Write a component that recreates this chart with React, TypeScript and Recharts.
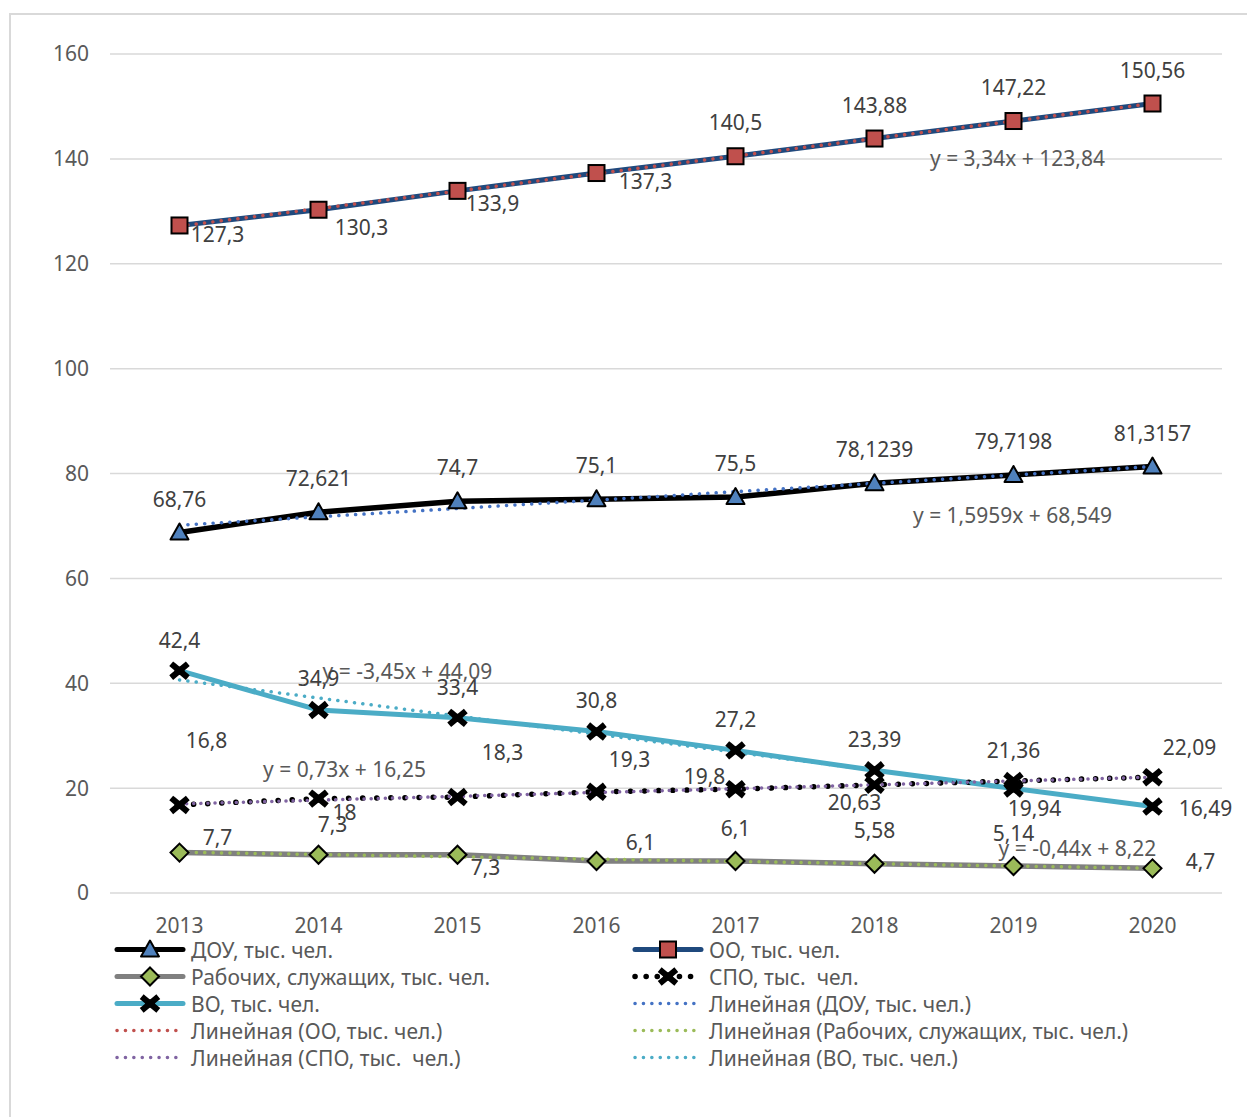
import { LineChart, Line, XAxis, YAxis, CartesianGrid, LabelList } from "recharts";

const years = ["2013", "2014", "2015", "2016", "2017", "2018", "2019", "2020"];
const dou = [68.76, 72.621, 74.7, 75.1, 75.5, 78.1239, 79.7198, 81.3157];
const oo = [127.3, 130.3, 133.9, 137.3, 140.5, 143.88, 147.22, 150.56];
const rab = [7.7, 7.3, 7.3, 6.1, 6.1, 5.58, 5.14, 4.7];
const spo = [16.8, 18, 18.3, 19.3, 19.8, 20.63, 21.36, 22.09];
const vo = [42.4, 34.9, 33.4, 30.8, 27.2, 23.39, 19.94, 16.49];

// linear trend values
const douTrend = [70.14, 71.74, 73.33, 74.93, 76.53, 78.12, 79.72, 81.32];
const ooTrend = [127.18, 130.52, 133.86, 137.2, 140.54, 143.88, 147.22, 150.56];
const rabTrend = [7.78, 7.34, 6.9, 6.46, 6.02, 5.58, 5.14, 4.7];
const spoTrend = [16.98, 17.71, 18.44, 19.17, 19.9, 20.63, 21.36, 22.09];
const voTrend = [40.64, 37.19, 33.74, 30.29, 26.84, 23.39, 19.94, 16.49];

const yTicks = [0, 20, 40, 60, 80, 100, 120, 140, 160];

const data = years.map((year, i) => ({
  year,
  dou: dou[i],
  oo: oo[i],
  rab: rab[i],
  spo: spo[i],
  vo: vo[i],
  douTrend: douTrend[i],
  ooTrend: ooTrend[i],
  rabTrend: rabTrend[i],
  spoTrend: spoTrend[i],
  voTrend: voTrend[i],
}));

// label offsets (px) from each point, mimicking Excel's placement
const douOff = [[0, -33], [0, -34], [0, -34], [0, -34], [0, -34], [0, -34], [0, -34], [0, -34]];
const ooOff = [[38, 9], [43, 17], [35, 12], [49, 8], [0, -34], [0, -34], [0, -34], [0, -34]];
const voOff = [[0, -31], [0, -32], [0, -31], [0, -31], [0, -31], [0, -31], [21, 20], [53, 1]];
const spoOff = [[27, -65], [26, 13], [45, -45], [33, -33], [-31, -13], [-20, 17], [0, -31], [37, -30]];
const rabOff = [[38, -16], [14, -31], [28, 12], [44, -19], [0, -33], [0, -34], [0, -33], [48, -7]];

const FONT = "'Noto Sans', 'Open Sans', sans-serif";
const FS = 21;
const LABEL = "#404040";
const AXIS = "#595959";

const C = {
  dou: "#000000",
  oo: "#1f497d",
  rab: "#808080",
  spo: "#000000",
  vo: "#4bacc6",
  douT: "#4472c4",
  ooT: "#c0504d",
  rabT: "#9bbb59",
  spoT: "#8064a2",
  voT: "#4bacc6",
};

const fmt = (v: number) => String(v).replace(".", ",");

function Tri({ cx, cy }: { cx: number; cy: number }) {
  return (
    <path
      d={`M${cx},${cy - 9} L${cx + 9},${cy + 7} L${cx - 9},${cy + 7} Z`}
      fill="#4f81bd"
      stroke="#000"
      strokeWidth={2}
      strokeLinejoin="round"
    />
  );
}

function Sq({ cx, cy }: { cx: number; cy: number }) {
  return <rect x={cx - 8} y={cy - 8} width={16} height={16} fill="#c0504d" stroke="#000" strokeWidth={2} />;
}

function Dia({ cx, cy }: { cx: number; cy: number }) {
  return (
    <path
      d={`M${cx},${cy - 9} L${cx + 9},${cy} L${cx},${cy + 9} L${cx - 9},${cy} Z`}
      fill="#9bbb59"
      stroke="#000"
      strokeWidth={2}
    />
  );
}

function Cross({ cx, cy }: { cx: number; cy: number }) {
  return (
    <g stroke="#000" strokeWidth={6} strokeLinecap="square">
      <line x1={cx - 6} y1={cy - 5} x2={cx + 6} y2={cy + 5} />
      <line x1={cx - 6} y1={cy + 5} x2={cx + 6} y2={cy - 5} />
      <rect x={cx - 5} y={cy - 4} width={10} height={8} fill="#000" strokeWidth={0} />
    </g>
  );
}

function pointLabel(offsets: number[][]) {
  return (p: any) => {
    const { x, y, value, index } = p;
    if (x == null || y == null) return null;
    const [dx, dy] = offsets[index] || [0, -30];
    return (
      <text
        key={`l-${index}`}
        x={x + dx}
        y={y + dy}
        textAnchor="middle"
        dominantBaseline="central"
        fontFamily={FONT}
        fontSize={FS}
        fill={LABEL}
      >
        {fmt(value)}
      </text>
    );
  };
}

function eqLabel(at: number, dx: number, dy: number, text: string) {
  return (p: any) => {
    const { x, y, index } = p;
    if (index !== at || x == null) return null;
    return (
      <text
        key={`eq-${index}`}
        x={x + dx}
        y={y + dy}
        textAnchor="middle"
        dominantBaseline="central"
        fontFamily={FONT}
        fontSize={FS}
        fill={AXIS}
      >
        {text}
      </text>
    );
  };
}

const dotted = (w: number, gap: number) => ({
  strokeWidth: w,
  strokeDasharray: `0.1 ${gap}`,
  strokeLinecap: "round" as const,
});

type LegendItem = { name: string; color: string; width: number; dash?: string; marker?: (cx: number, cy: number) => any };

const legendItems: LegendItem[] = [
  { name: "ДОУ, тыс. чел.", color: C.dou, width: 5, marker: (cx, cy) => <Tri cx={cx} cy={cy} /> },
  { name: "ОО, тыс. чел.", color: C.oo, width: 5, marker: (cx, cy) => <Sq cx={cx} cy={cy} /> },
  { name: "Рабочих, служащих, тыс. чел.", color: C.rab, width: 5, marker: (cx, cy) => <Dia cx={cx} cy={cy} /> },
  { name: "СПО, тыс.  чел.", color: C.spo, width: 5.5, dash: "0.1 11", marker: (cx, cy) => <Cross cx={cx} cy={cy} /> },
  { name: "ВО, тыс. чел.", color: C.vo, width: 5, marker: (cx, cy) => <Cross cx={cx} cy={cy} /> },
  { name: "Линейная (ДОУ, тыс. чел.)", color: C.douT, width: 3.5, dash: "0.1 8.3" },
  { name: "Линейная (ОО, тыс. чел.)", color: C.ooT, width: 3.5, dash: "0.1 8.3" },
  { name: "Линейная (Рабочих, служащих, тыс. чел.)", color: C.rabT, width: 3.5, dash: "0.1 8.3" },
  { name: "Линейная (СПО, тыс.  чел.)", color: C.spoT, width: 3.5, dash: "0.1 8.3" },
  { name: "Линейная (ВО, тыс. чел.)", color: C.voT, width: 3.5, dash: "0.1 8.3" },
];

function ChartLegend() {
  return (
    <div style={{ position: "absolute", left: 113, top: 936, width: 1100 }}>
      {legendItems.map((it, i) => {
        const col = i % 2;
        const row = Math.floor(i / 2);
        return (
          <div
            key={it.name}
            style={{
              position: "absolute",
              left: col === 0 ? 0 : 518,
              top: row * 27,
              height: 27,
              display: "flex",
              alignItems: "center",
              whiteSpace: "pre",
            }}
          >
            <svg width={76} height={27}>
              <line
                x1={4}
                y1={13.5}
                x2={70}
                y2={13.5}
                stroke={it.color}
                strokeWidth={it.width}
                strokeDasharray={it.dash}
                strokeLinecap="round"
              />
              {it.marker ? it.marker(37, 13.5) : null}
            </svg>
            <span style={{ fontFamily: FONT, fontSize: FS, color: AXIS, marginLeft: 2 }}>{it.name}</span>
          </div>
        );
      })}
    </div>
  );
}

export default function App() {
  return (
    <div style={{ position: "absolute", left: 0, top: 0, width: 1247, height: 1117, background: "#fff", overflow: "hidden" }}>
      <div
        style={{
          position: "absolute",
          left: 9,
          top: 13,
          width: 1260,
          height: 1130,
          border: "2px solid #d9d9d9",
        }}
      />
      <div style={{ position: "absolute", left: 0, top: 0 }}>
        <LineChart width={1247} height={1117} data={data} margin={{ top: 54, right: 25, bottom: 194, left: 0 }}>
          <CartesianGrid vertical={false} stroke="#d9d9d9" strokeWidth={1.5} />
          <XAxis
            dataKey="year"
            axisLine={false}
            tickLine={false}
            height={30}
            tickMargin={19}
            padding={{ left: 69.5, right: 69.5 }}
            tick={{ fontFamily: FONT, fontSize: FS, fill: AXIS }}
          />
          <YAxis
            domain={[0, 160]}
            ticks={yTicks}
            width={110}
            axisLine={false}
            tickLine={false}
            tickMargin={15}
            tick={{ fontFamily: FONT, fontSize: FS, fill: AXIS }}
          />

          {/* series lines */}
          <Line dataKey="oo" stroke={C.oo} strokeWidth={5} dot={false} isAnimationActive={false} />
          <Line dataKey="dou" stroke={C.dou} strokeWidth={5.5} dot={false} isAnimationActive={false} />
          <Line dataKey="vo" stroke={C.vo} strokeWidth={5} dot={false} isAnimationActive={false} />
          <Line dataKey="rab" stroke={C.rab} strokeWidth={5.5} dot={false} isAnimationActive={false} />
          <Line dataKey="spo" stroke={C.spo} {...dotted(5.5, 14)} dot={false} isAnimationActive={false} />

          {/* linear trends */}
          <Line dataKey="ooTrend" stroke={C.ooT} {...dotted(3.5, 8.3)} dot={false} isAnimationActive={false}>
            <LabelList dataKey="ooTrend" content={eqLabel(6, 4, 37, "y = 3,34x + 123,84")} />
          </Line>
          <Line dataKey="douTrend" stroke={C.douT} {...dotted(3.5, 8.3)} dot={false} isAnimationActive={false}>
            <LabelList dataKey="douTrend" content={eqLabel(6, -1, 40, "y = 1,5959x + 68,549")} />
          </Line>
          <Line dataKey="voTrend" stroke={C.voT} {...dotted(3.5, 8.3)} dot={false} isAnimationActive={false}>
            <LabelList dataKey="voTrend" content={eqLabel(1, 89, -27, "y = -3,45x + 44,09")} />
          </Line>
          <Line dataKey="spoTrend" stroke={C.spoT} {...dotted(3.5, 7)} dot={false} isAnimationActive={false}>
            <LabelList dataKey="spoTrend" content={eqLabel(1, 26, -31, "y = 0,73x + 16,25")} />
          </Line>
          <Line dataKey="rabTrend" stroke={C.rabT} {...dotted(3.5, 8.3)} dot={false} isAnimationActive={false}>
            <LabelList dataKey="rabTrend" content={eqLabel(6, 64, -18, "y = -0,44x + 8,22")} />
          </Line>

          {/* markers and data labels on top */}
          <Line
            dataKey="oo"
            stroke="none"
            isAnimationActive={false}
            dot={(p: any) => <Sq key={`oo-${p.index}`} cx={p.cx} cy={p.cy} />}
          >
            <LabelList dataKey="oo" content={pointLabel(ooOff)} />
          </Line>
          <Line
            dataKey="dou"
            stroke="none"
            isAnimationActive={false}
            dot={(p: any) => <Tri key={`dou-${p.index}`} cx={p.cx} cy={p.cy} />}
          >
            <LabelList dataKey="dou" content={pointLabel(douOff)} />
          </Line>
          <Line
            dataKey="vo"
            stroke="none"
            isAnimationActive={false}
            dot={(p: any) => <Cross key={`vo-${p.index}`} cx={p.cx} cy={p.cy} />}
          >
            <LabelList dataKey="vo" content={pointLabel(voOff)} />
          </Line>
          <Line
            dataKey="spo"
            stroke="none"
            isAnimationActive={false}
            dot={(p: any) => <Cross key={`spo-${p.index}`} cx={p.cx} cy={p.cy} />}
          >
            <LabelList dataKey="spo" content={pointLabel(spoOff)} />
          </Line>
          <Line
            dataKey="rab"
            stroke="none"
            isAnimationActive={false}
            dot={(p: any) => <Dia key={`rab-${p.index}`} cx={p.cx} cy={p.cy} />}
          >
            <LabelList dataKey="rab" content={pointLabel(rabOff)} />
          </Line>
        </LineChart>
      </div>
      <ChartLegend />
    </div>
  );
}
